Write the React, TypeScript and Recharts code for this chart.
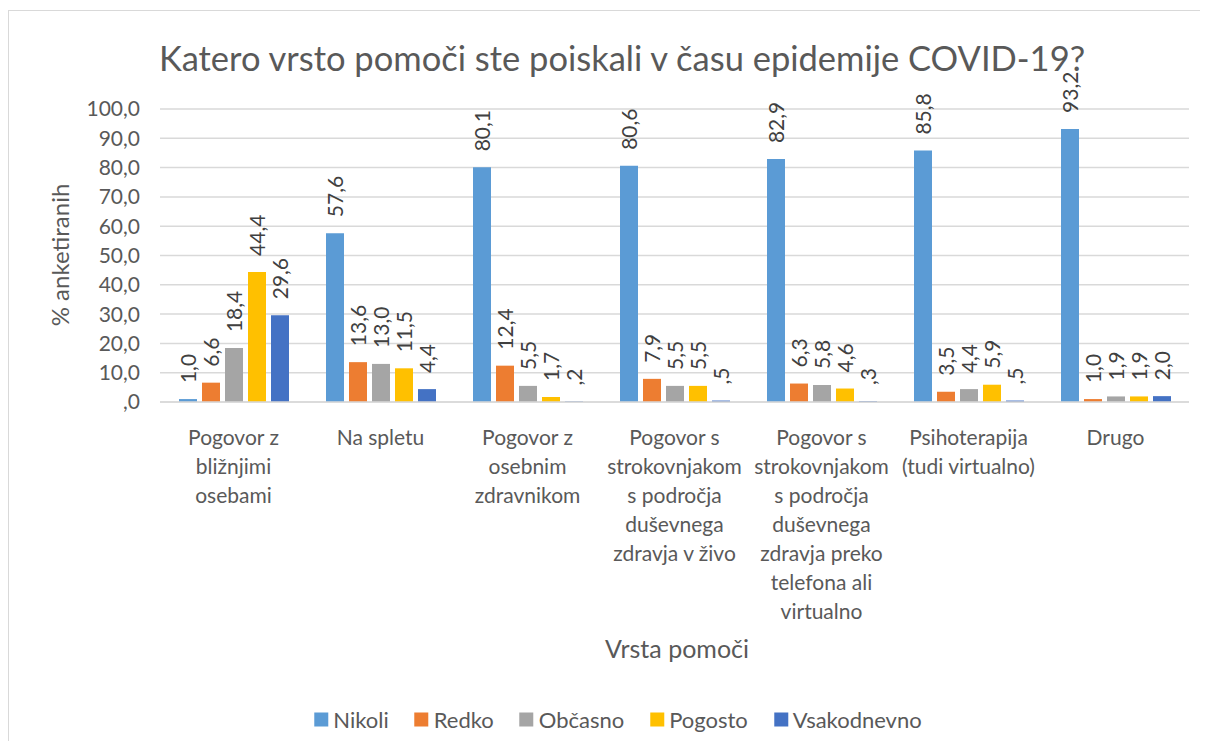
import React from 'react';
import { BarChart, Bar, XAxis, YAxis, CartesianGrid, LabelList } from 'recharts';

const categories = [
  'Pogovor z bližnjimi osebami',
  'Na spletu',
  'Pogovor z osebnim zdravnikom',
  'Pogovor s strokovnjakom s področja duševnega zdravja v živo',
  'Pogovor s strokovnjakom s področja duševnega zdravja preko telefona ali virtualno',
  'Psihoterapija (tudi virtualno)',
  'Drugo',
];

const categoryLines = [
  ['Pogovor z', 'bližnjimi', 'osebami'],
  ['Na spletu'],
  ['Pogovor z', 'osebnim', 'zdravnikom'],
  ['Pogovor s', 'strokovnjakom', 's področja', 'duševnega', 'zdravja v živo'],
  ['Pogovor s', 'strokovnjakom', 's področja', 'duševnega', 'zdravja preko', 'telefona ali', 'virtualno'],
  ['Psihoterapija', '(tudi virtualno)'],
  ['Drugo'],
];

const nikoli = [1.0, 57.6, 80.1, 80.6, 82.9, 85.8, 93.2];
const redko = [6.6, 13.6, 12.4, 7.9, 6.3, 3.5, 1.0];
const obcasno = [18.4, 13.0, 5.5, 5.5, 5.8, 4.4, 1.9];
const pogosto = [44.4, 11.5, 1.7, 5.5, 4.6, 5.9, 1.9];
const vsakodnevno = [29.6, 4.4, 0.2, 0.5, 0.3, 0.5, 2.0];

const seriesNames = ['Nikoli', 'Redko', 'Občasno', 'Pogosto', 'Vsakodnevno'];
const seriesKeys = ['nikoli', 'redko', 'obcasno', 'pogosto', 'vsakodnevno'];
const seriesColors = ['#5B9BD5', '#ED7D31', '#A5A5A5', '#FFC000', '#4472C4'];
const seriesValues = [nikoli, redko, obcasno, pogosto, vsakodnevno];

const yTicks = [0, 10, 20, 30, 40, 50, 60, 70, 80, 90, 100];

const title = 'Katero vrsto pomoči ste poiskali v času epidemije COVID-19?';
const yTitle = '% anketiranih';
const xTitle = 'Vrsta pomoči';

const data = categories.map((c, i) => {
  const row: any = { category: c };
  seriesKeys.forEach((k, j) => {
    row[k] = seriesValues[j][i];
  });
  return row;
});

const FONT = 'Lato, "Open Sans", sans-serif';
const TEXT = '#595959';

const fmt = (v: number) => {
  const s = v.toFixed(1).replace('.', ',');
  return s.startsWith('0') ? s.slice(1) : s;
};

const CatTick = (props: any) => {
  const { x, y, payload } = props;
  const idx = categories.indexOf(payload.value);
  const lines = idx >= 0 ? categoryLines[idx] : [payload.value];
  return (
    <g>
      {lines.map((l: string, i: number) => (
        <text
          key={i}
          x={x}
          y={y + 26 + i * 29}
          textAnchor="middle"
          dominantBaseline="central"
          fill={TEXT}
          fontSize={21}
          fontFamily={FONT}
        >
          {l}
        </text>
      ))}
    </g>
  );
};

const BarLabel = (props: any) => {
  const { x, y, width, value } = props;
  const cx = x + width / 2;
  const ty = y - 16;
  return (
    <text
      x={cx}
      y={ty}
      transform={`rotate(-90, ${cx}, ${ty})`}
      textAnchor="start"
      dominantBaseline="central"
      fill="#404040"
      fontSize={21}
      fontFamily={FONT}
    >
      {fmt(value)}
    </text>
  );
};

export default function App() {
  return (
    <div style={{ position: 'relative', width: 1200, height: 733, overflow: 'hidden', fontFamily: FONT }}>
      <div
        style={{
          position: 'absolute',
          left: 0,
          top: 2,
          width: 1400,
          height: 1000,
          borderTop: '1px solid #d9d9d9',
          borderLeft: '1px solid #d9d9d9',
        }}
      />
      <div
        style={{
          position: 'absolute',
          left: 614,
          top: 49,
          transform: 'translate(-50%, -50%)',
          whiteSpace: 'nowrap',
          fontSize: 34.5,
          color: TEXT,
        }}
      >
        {title}
      </div>
      <div style={{ position: 'absolute', left: 0, top: 0 }}>
        <BarChart
          width={1200}
          height={733}
          data={data}
          margin={{ top: 101, right: 19, left: 0, bottom: 99 }}
          barSize={18}
          barGap={5}
        >
          <CartesianGrid vertical={false} stroke="#d9d9d9" strokeWidth={1.5} />
          <XAxis
            dataKey="category"
            height={240}
            interval={0}
            tickLine={false}
            axisLine={{ stroke: '#d9d9d9', strokeWidth: 1.5 }}
            tick={<CatTick />}
          />
          <YAxis
            width={152}
            domain={[0, 100]}
            ticks={yTicks}
            interval={0}
            axisLine={false}
            tickLine={false}
            tickSize={0}
            tickMargin={20}
            tickFormatter={(v: number) => fmt(v)}
            tick={{ fill: TEXT, fontSize: 21, fontFamily: FONT }}
          />
          {seriesKeys.map((k, j) => (
            <Bar key={k} dataKey={k} name={seriesNames[j]} fill={seriesColors[j]} isAnimationActive={false}>
              <LabelList dataKey={k} content={<BarLabel />} />
            </Bar>
          ))}
        </BarChart>
      </div>
      <div
        style={{
          position: 'absolute',
          left: 51,
          top: 247,
          transform: 'translate(-50%, -50%) rotate(-90deg)',
          whiteSpace: 'nowrap',
          fontSize: 24,
          color: TEXT,
        }}
      >
        {yTitle}
      </div>
      <div
        style={{
          position: 'absolute',
          left: 669,
          top: 640,
          transform: 'translate(-50%, -50%)',
          whiteSpace: 'nowrap',
          fontSize: 25,
          color: TEXT,
        }}
      >
        {xTitle}
      </div>
      <div
        style={{
          position: 'absolute',
          left: 610,
          top: 711,
          transform: 'translate(-50%, -50%)',
          whiteSpace: 'nowrap',
          display: 'flex',
          alignItems: 'center',
          gap: 26,
          fontSize: 22,
          color: TEXT,
        }}
      >
        {seriesNames.map((n, j) => (
          <div key={n} style={{ display: 'flex', alignItems: 'center' }}>
            <span style={{ display: 'inline-block', width: 14, height: 14, background: seriesColors[j], marginRight: 5 }} />
            <span>{n}</span>
          </div>
        ))}
      </div>
    </div>
  );
}
